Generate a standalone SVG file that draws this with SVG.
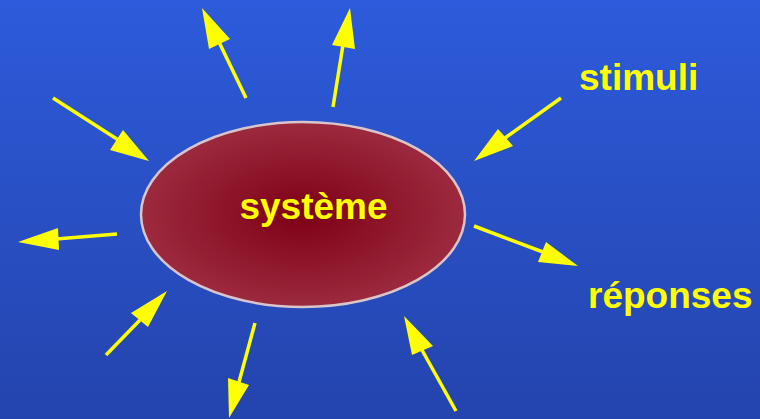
<svg xmlns="http://www.w3.org/2000/svg" width="760" height="419" viewBox="0 0 760 419">
<defs>
<linearGradient id="bg" x1="0" y1="0" x2="0" y2="1">
<stop offset="0" stop-color="#2d5bdb"/>
<stop offset="1" stop-color="#2444ad"/>
</linearGradient>
<radialGradient id="sys" cx="0.5" cy="0.5" r="0.5">
<stop offset="0" stop-color="#7e0016"/>
<stop offset="1" stop-color="#9c2a3e"/>
</radialGradient>
<style>
.ln{stroke:#ffff00;stroke-width:3.5;fill:none}
.hd{fill:#ffff00;stroke:none}
.lbl{font-family:"Liberation Sans",Arial,sans-serif;font-weight:bold;font-size:37px;fill:#ffff00}
</style>
</defs>
<rect width="760" height="419" fill="url(#bg)"/>
<g id="systeme">
<ellipse cx="303" cy="214.5" rx="162" ry="92.5" fill="url(#sys)" stroke="#d9c6cc" stroke-width="2.5"/>
<text class="lbl" x="313.5" y="219" text-anchor="middle">système</text>
</g>
<g id="stimuli"><text class="lbl" x="579" y="90">stimuli</text></g>
<g id="reponses"><text class="lbl" x="588" y="308">réponses</text></g>
<g id="connectors">
<line class="ln" x1="53" y1="98" x2="120" y2="141"/><polygon class="hd" points="149,161 123,130 110,150"/>
<line class="ln" x1="246" y1="98" x2="219" y2="42"/><polygon class="hd" points="202,8 209,49 230,39"/>
<line class="ln" x1="333" y1="107" x2="343" y2="45"/><polygon class="hd" points="350,8 332,45 355,49"/>
<line class="ln" x1="561" y1="98" x2="505" y2="138"/><polygon class="hd" points="474,161 498,129 513,146"/>
<line class="ln" x1="117" y1="234" x2="56" y2="239"/><polygon class="hd" points="18,242 58,228 59,250"/>
<line class="ln" x1="106" y1="355" x2="140" y2="320"/><polygon class="hd" points="167,291 131,313 148,327"/>
<line class="ln" x1="255" y1="323" x2="239" y2="382"/><polygon class="hd" points="229,418 228,378 249,385"/>
<line class="ln" x1="474" y1="226" x2="543" y2="252"/><polygon class="hd" points="578,266 546,242 538,262"/>
<line class="ln" x1="456" y1="411" x2="422" y2="350"/><polygon class="hd" points="404,316 412,355 433,346"/>
</g>
</svg>
